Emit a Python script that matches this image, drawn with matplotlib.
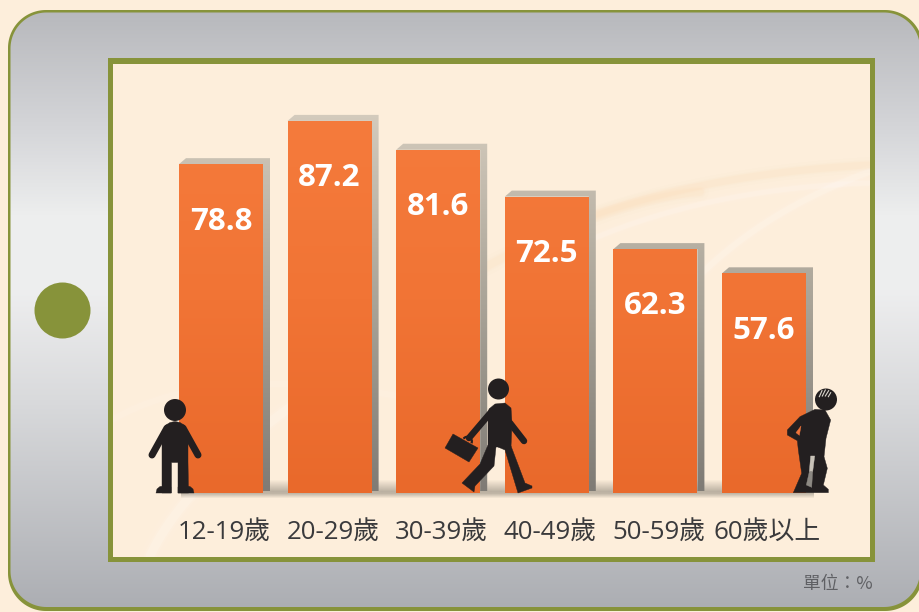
import numpy as np
import matplotlib
matplotlib.use('Agg')
import matplotlib.pyplot as plt
from matplotlib.colors import to_rgb
from matplotlib.patches import Circle, Polygon, Rectangle, Arc

categories = ['12-19歲', '20-29歲', '30-39歲', '40-49歲', '50-59歲', '60歲以上']
values = [78.8, 87.2, 81.6, 72.5, 62.3, 57.6]
value_labels = ['78.8', '87.2', '81.6', '72.5', '62.3', '57.6']
unit_label = '單位：%'
axis_floor = 14.94

W, H = 920, 612
FONT = ['Open Sans', 'Noto Sans CJK TC', 'DejaVu Sans']
OLIVE = '#87933a'
DARK = '#231f20'
CREAM = '#fdeedb'
plt.rcParams['font.family'] = FONT


def gradient(stops):
    ys = np.array([s[0] for s in stops], float)
    cols = np.array([to_rgb(s[1]) for s in stops])
    yy = np.arange(H) + .5
    return np.stack([np.interp(yy, ys, cols[:, i]) for i in range(3)], 1)[:, None, :]


def round_rect(x0, y0, x1, y1, r):
    out = []
    for cx, cy, a0 in [(x0 + r, y0 + r, 180), (x1 - r, y0 + r, 270), (x1 - r, y1 - r, 0), (x0 + r, y1 - r, 90)]:
        t = np.radians(np.linspace(a0, a0 + 90, 30))
        out += list(zip(cx + r * np.cos(t), cy + r * np.sin(t)))
    return out


def curve(pts, n=60):
    p = np.array(pts, float)
    t = np.linspace(0, 1, n)
    k = np.linspace(0, 1, len(p))
    return np.polyval(np.polyfit(k, p[:, 0], 2), t), np.polyval(np.polyfit(k, p[:, 1], 2), t)


fig = plt.figure(figsize=(W / 100, H / 100), dpi=100, facecolor=CREAM)

bg = fig.add_axes([0, 0, 1, 1], zorder=0)
bg.set_xlim(0, W)
bg.set_ylim(H, 0)
bg.axis('off')
bg.set_autoscale_on(False)

# olive body slightly lower than the grey face, so corners read thicker at the bottom
bg.add_patch(Polygon(round_rect(8, 10, 923, 611, 38), closed=True, fc=OLIVE, ec='none', zorder=1))
frame = Polygon(round_rect(10.5, 12.5, 920, 607, 36), closed=True, fc='none', ec='none', zorder=2)
bg.add_patch(frame)
frame_grad = gradient([(10, '#b7b8bc'), (130, '#d5d6d9'), (215, '#edeeee'), (290, '#eeeeef'),
                       (400, '#d9dadc'), (612, '#abadb2')])
im = bg.imshow(frame_grad, extent=(0, W, H, 0), aspect='auto', zorder=2)
im.set_clip_path(frame)

bg.add_patch(Circle((62.5, 310.5), 28, fc=OLIVE, ec='none', zorder=4))

bg.add_patch(Rectangle((108, 58), 767, 504, fc=OLIVE, ec='none', zorder=4))
panel = Rectangle((113, 64), 757, 493, fc=CREAM, ec='none', zorder=5)
bg.add_patch(panel)

for pts, col, lw, a in [
    ([(150, 556), (205, 480), (300, 400)], 'white', 9, .14),
    ([(112, 420), (240, 385), (420, 400)], 'white', 6, .08),
    ([(480, 270), (600, 215), (700, 192)], '#fbd9ae', 8, .10),
    ([(590, 216), (720, 182), (869, 165)], '#fbd9ae', 7, .12),
    ([(590, 240), (720, 200), (869, 183)], 'white', 5, .12),
    ([(690, 285), (770, 220), (869, 172)], 'white', 6, .14),
]:
    cx, cy = curve(pts)
    for m, al in [(2.2, .35), (1.4, .6), (1, 1)]:
        ln, = bg.plot(cx, cy, color=col, lw=lw * m * .72, alpha=a * al,
                      solid_capstyle='round', zorder=6)
        ln.set_clip_path(panel)

ax = fig.add_axes([179 / W, (H - 493) / H, (806 - 179) / W, 372.1 / H], zorder=1)
ax.patch.set_alpha(0)
x = np.arange(len(categories))
bar_w = 84 / 108.6
ax.set_xlim(-bar_w / 2, x[-1] + bar_w / 2)
ax.set_ylim(axis_floor, 87.2)
ax.set_autoscale_on(False)
for s in ax.spines.values():
    s.set_visible(False)


def to_px(px, py):
    d = ax.transData.transform((px, py))
    return d[0], H - d[1]


x_left, y_base = to_px(x[0] - bar_w / 2, axis_floor)
x_right, _ = to_px(x[-1] + bar_w / 2, axis_floor)
alpha = np.interp(np.arange(20), [0, 12, 14, 19], [0, .6, .55, 0])
shadow = np.zeros((20, 1, 4))
shadow[..., :3] = to_rgb('#8f887c')
shadow[:, 0, 3] = alpha
bg.imshow(shadow, extent=(x_left + 2, x_right + 8, y_base + 6, y_base - 14), aspect='auto',
          zorder=7, interpolation='bilinear')

side_grad = gradient([(113, '#d4cbbd'), (300, '#aaa498'), (490, '#7f7b75')])
DX, DY = 7, 6
for xi, v in zip(x, values):
    x0, yt = to_px(xi - bar_w / 2, v)
    x1, yb = to_px(xi + bar_w / 2, axis_floor)
    poly = Polygon([(x0, yt), (x0 + DX, yt - DY), (x1 + DX, yt - DY), (x1 + DX, yb - 2),
                    (x1, yb - 2), (x1, yt)], closed=True, fc='none', ec='none', zorder=8)
    bg.add_patch(poly)
    i2 = bg.imshow(side_grad, extent=(0, W, H, 0), aspect='auto', zorder=8)
    i2.set_clip_path(poly)

bars = ax.bar(x, [v - axis_floor for v in values], width=bar_w, bottom=axis_floor,
              color='#ee7030', zorder=2)
bar_grad = gradient([(115, '#f57b3c'), (300, '#f17435'), (493, '#e9692b')])
for b in bars:
    i3 = ax.imshow(bar_grad, extent=(0, 1, 0, 1), aspect='auto', zorder=3,
                   transform=fig.transFigure)
    i3.set_clip_path(b)

for xi, v, lab in zip(x, values, value_labels):
    ax.annotate(lab, (xi, v), xytext=(0, -41.3), textcoords='offset points', ha='center',
                va='center', color='white', fontsize=22.5, fontweight='bold', zorder=5,
                family=FONT)

ax.set_yticks([])
ax.set_xticks(x + .03)
ax.set_xticklabels(categories, fontsize=18.6, color='#3a3a3c', family=FONT)
ax.tick_params(axis='x', length=0, pad=20)

fg = fig.add_axes([0, 0, 1, 1], zorder=2)
fg.set_xlim(0, W)
fg.set_ylim(H, 0)
fg.axis('off')
fg.patch.set_alpha(0)


def limb(a, b, w=6):
    fg.plot([a[0], b[0]], [a[1], b[1]], color=DARK, lw=w * .72, solid_capstyle='round', zorder=5)


def shape(pts, color=DARK, z=5):
    fg.add_patch(Polygon(pts, closed=True, fc=color, ec=color, lw=.3, zorder=z, joinstyle='round'))


fg.add_patch(Circle((175, 410), 11, fc=DARK, ec='none'))
shape([(166, 425), (170, 422.5), (175, 421.5), (180, 422.5), (184, 425), (188, 432), (188, 462), (188.5, 493),
       (178, 493), (178, 462.5), (171.5, 462.5), (171.5, 493), (162, 493), (162, 440), (162, 432)])
limb((167, 428), (152, 455), 7)
limb((183, 428), (198, 455), 7)
shape([(156, 493), (157, 489), (160, 486.5), (166, 486), (171, 487), (171, 493)])
shape([(178, 493), (178, 487), (184, 486), (190, 486.5), (193, 489), (194, 493)])

fg.add_patch(Circle((498.5, 389), 10.5, fc=DARK, ec='none'))
shape([(489, 409), (495, 404), (505, 403), (511, 408), (512, 423), (511, 447), (488, 447), (488, 420)])
limb((492, 411), (469, 438), 6.5)
limb((510, 423), (524, 441), 6.5)
shape([(453, 434), (478, 448), (469, 462), (445, 448)])
fg.add_patch(Arc((467.5, 441), 9, 8, angle=30, theta1=180, theta2=360, ec=DARK, lw=1.6))
shape([(488, 445), (496, 447), (494, 466), (475, 486), (474, 492), (462, 483), (480, 464)])
shape([(498, 447), (511, 446), (525, 483), (532, 486), (532, 488), (518, 493), (505, 450)])

Z = lambda p: (700 + p[0] / 3, 370 + p[1] / 3)
fg.add_patch(Circle((826, 399.5), 11, fc=DARK, ec='none'))
for a, b in [((358, 80), (366, 62)), ((367, 78), (376, 60)), ((376, 78), (386, 62)), ((385, 80), (392, 68))]:
    fg.plot(*zip(Z(a), Z(b)), color='#d8d4cc', lw=.8, zorder=6)
shape([Z(p) for p in [(345, 118), (375, 120), (392, 150), (378, 205), (372, 260), (382, 295), (370, 345),
                      (385, 358), (385, 368), (280, 368), (305, 310), (295, 240), (292, 212), (262, 195),
                      (262, 180), (300, 140)]])
shape([Z(p) for p in [(303, 168), (288, 188), (298, 196)]], '#f0743a', 6)
shape([Z(p) for p in [(332, 258), (344, 258), (338, 305), (328, 305)]], '#c8c2b8', 6)
shape([Z(p) for p in [(328, 305), (338, 305), (335, 352), (319, 345)]], '#8d8983', 6)

fg.text(873, 584, unit_label, ha='right', va='center', fontsize=12.8, color='#5f6064',
        family=['Noto Sans CJK TC', 'DejaVu Sans'])

fig.savefig('out.png', dpi=100, facecolor=fig.get_facecolor())
